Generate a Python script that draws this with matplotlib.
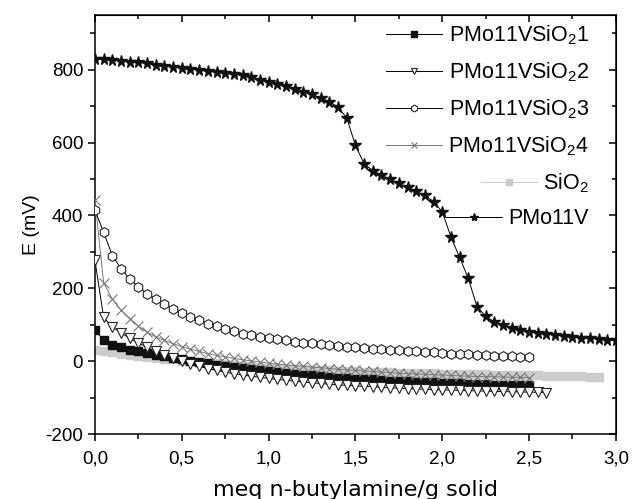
import numpy as np
from matplotlib import pyplot as plt
from matplotlib.ticker import MultipleLocator, FuncFormatter

# valores (passo de 0,05 meq/g)
passo = 0.05

e_pmo11vsio2_1 = [85, 58, 45, 38, 32, 27, 22, 17, 13, 9, 5, 1, -3, -6, -10, -13, -16, -19, -22, -25,
                  -28, -30, -33, -35, -37, -39, -41, -43, -45, -46, -48, -49, -50, -52, -53, -54,
                  -55, -56, -57, -58, -59, -60, -61, -62, -62, -63, -64, -64, -65, -66, -66]

e_pmo11vsio2_2 = [277, 120, 94, 78, 63, 50, 38, 27, 18, 9, 1, -7, -14, -20, -25, -30, -34, -38, -41, -44,
                  -47, -50, -52, -55, -57, -59, -61, -63, -65, -66, -68, -69, -70, -72, -73, -74,
                  -75, -76, -77, -78, -79, -79, -80, -81, -81, -82, -83, -83, -84, -84, -85, -85, -86]

e_pmo11vsio2_3 = [414, 354, 290, 254, 226, 204, 185, 170, 156, 144, 132, 121, 112, 103, 96, 88, 82, 76, 71, 67,
                  63, 60, 57, 54, 51, 49, 46, 44, 42, 40, 38, 36, 34, 33, 31, 30, 28, 27, 25, 24,
                  22, 21, 20, 19, 17, 16, 15, 14, 13, 12, 11]

e_pmo11vsio2_4 = [443, 215, 170, 140, 117, 96, 80, 67, 57, 48, 40, 33, 27, 21, 16, 12, 8, 4, 1, -2,
                  -5, -8, -10, -12, -14, -16, -18, -20, -22, -24, -25, -27, -28, -30, -31, -33,
                  -34, -35, -36, -37, -38, -39, -40, -41, -42, -42, -43, -43, -44, -44, -45]

e_sio2 = [32, 27, 24, 21, 18, 15, 12, 10, 7, 5, 2, 0, -2, -4, -6, -8, -10, -12, -14, -16,
          -18, -19, -20, -21, -22, -23, -24, -25, -26, -27, -28, -29, -29, -30, -30, -31,
          -31, -32, -32, -33, -34, -34, -35, -35, -36, -36, -37, -37, -38, -38, -39,
          -39, -40, -40, -41, -41, -41, -42, -42]

e_pmo11v = [830, 828, 826, 824, 822, 820, 817, 814, 811, 808, 805, 802, 799, 796, 793, 790, 787, 784, 781, 772,
            766, 760, 754, 747, 740, 732, 722, 712, 697, 668, 592, 542, 523, 510, 499, 488, 477, 466, 455, 438,
            410, 341, 285, 227, 150, 123, 108, 99, 91, 85, 81, 78, 75, 72, 70, 67, 65, 63, 61, 59, 57]

rotulos = ["PMo11VSiO$_2$1", "PMo11VSiO$_2$2", "PMo11VSiO$_2$3", "PMo11VSiO$_2$4", "SiO$_2$", "PMo11V"]


def eixo_x(valores):
    return np.arange(len(valores)) * passo


plt.rcParams['font.family'] = ['Liberation Sans', 'DejaVu Sans']
plt.rcParams['mathtext.fontset'] = 'custom'
plt.rcParams['mathtext.rm'] = 'Liberation Sans'
plt.rcParams['axes.unicode_minus'] = False

fig = plt.figure(figsize=(6.33, 4.99), dpi=100)
ax = fig.add_axes([0.150, 0.130, 0.823, 0.840])

lw = 0.7
ax.plot(eixo_x(e_sio2), e_sio2, color='#c8c8c8', lw=lw, marker='s', ms=5.5,
        mfc='#cccccc', mec='#cccccc', label=rotulos[4], zorder=2)
ax.plot(eixo_x(e_pmo11vsio2_1), e_pmo11vsio2_1, color='k', lw=lw, marker='s', ms=5.5,
        mfc='#111111', mec='#111111', label=rotulos[0], zorder=3)
ax.plot(eixo_x(e_pmo11vsio2_2), e_pmo11vsio2_2, color='k', lw=lw, marker='v', ms=7,
        mfc='white', mec='#222222', mew=0.8, label=rotulos[1], zorder=4)
ax.plot(eixo_x(e_pmo11vsio2_4), e_pmo11vsio2_4, color='#777777', lw=lw, marker='x', ms=6.5,
        mec='#777777', mew=0.8, label=rotulos[3], zorder=5)
ax.plot(eixo_x(e_pmo11vsio2_3), e_pmo11vsio2_3, color='k', lw=lw, marker='h', ms=7,
        mfc='white', mec='#222222', mew=0.8, label=rotulos[2], zorder=5)
ax.plot(eixo_x(e_pmo11v), e_pmo11v, color='k', lw=lw, marker='*', ms=8.5,
        mfc='#111111', mec='#111111', label=rotulos[5], zorder=6)

ax.set_xlim(0, 3.0)
ax.set_ylim(-200, 950)
ax.xaxis.set_major_locator(MultipleLocator(0.5))
ax.xaxis.set_minor_locator(MultipleLocator(0.25))
ax.yaxis.set_major_locator(MultipleLocator(200))
ax.yaxis.set_minor_locator(MultipleLocator(100))
ax.xaxis.set_major_formatter(FuncFormatter(lambda v, p: f"{v:.1f}".replace('.', ',')))

ax.tick_params(which='both', direction='out', labelsize=13.5, width=1.1)
ax.tick_params(which='major', length=5)
ax.tick_params(which='minor', length=3.5)
ax.tick_params(axis='x', pad=7)
for lado in ['top', 'right', 'left', 'bottom']:
    ax.spines[lado].set_linewidth(1.1)

# ticks internos no topo e na direita
topo = ax.secondary_xaxis('top')
topo.xaxis.set_major_locator(MultipleLocator(0.5))
topo.xaxis.set_minor_locator(MultipleLocator(0.25))
topo.tick_params(which='both', direction='in', labeltop=False, width=1.1)
topo.tick_params(which='major', length=5)
topo.tick_params(which='minor', length=3)
direita = ax.secondary_yaxis('right')
direita.yaxis.set_major_locator(MultipleLocator(200))
direita.yaxis.set_minor_locator(MultipleLocator(100))
direita.tick_params(which='both', direction='in', labelright=False, width=1.1)
direita.tick_params(which='major', length=5)
direita.tick_params(which='minor', length=3)

ax.set_ylabel("E (mV)", fontsize=14)
ax.set_xlabel("meq n-butylamine/g solid", fontsize=16, family='DejaVu Sans', labelpad=9)

handles, labels = ax.get_legend_handles_labels()
ordem = [labels.index(r) for r in rotulos]
leg = ax.legend([handles[i] for i in ordem], [labels[i] for i in ordem], loc='upper right',
                bbox_to_anchor=(0.965, 1.0), borderaxespad=0,
                frameon=False, fontsize=15.5, handlelength=2.6, labelspacing=0.62,
                handletextpad=0.3, markerscale=0.7)
# alinhar as entradas da legenda pela direita, como no original
for coluna in leg._legend_handle_box.get_children():
    coluna.align = 'right'

fig.savefig("out.png", dpi=100)
